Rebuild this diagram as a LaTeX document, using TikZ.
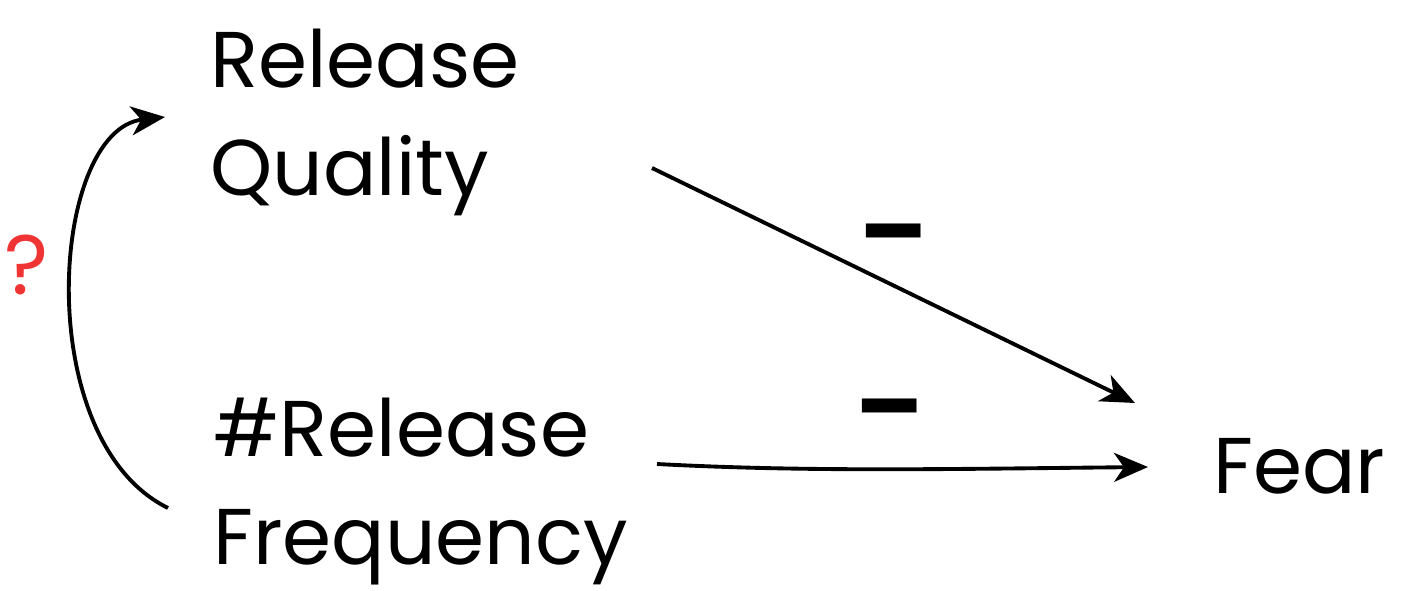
\documentclass[tikz,border=0pt]{standalone}
\usepackage{fontspec}
\setmainfont{Poppins}
\usetikzlibrary{positioning,arrows.meta}
\definecolor{qred}{RGB}{240,52,52}

\begin{document}
\begin{tikzpicture}[x=0.02cm, y=-0.02cm,
    concept/.style={inner sep=0pt, anchor=north west, align=left, font=\fontsize{45}{61}\selectfont},
    conn/.style={-{Stealth[length=0.68cm, width=0.58cm, inset=0.2cm]}, line width=2.2pt},
    sign/.style={font=\fontsize{56}{60}\selectfont\bfseries},
    qmark/.style={text=qred, font=\fontsize{48}{48}\selectfont}
]
    \useasboundingbox (0,0) rectangle (1416,591);

    % Concepts
    \node[concept] (quality) at (210,29) {Release\\Quality};
    \node[concept] (freq) at (213,398) {\#Release\\Frequency};
    \node[concept] (fear) at (1213,438) {Fear};

    % Influence arrows
    \draw[conn] ([shift={(442,139)}]quality.north west) -- node[sign, yshift=0.82cm] {–} ([shift={(-78,-35)}]fear.north west);
    \draw[conn] ([shift={(444,66)}]freq.north west) .. controls +(150,8) and +(-200,2) .. node[sign, xshift=0.12cm, yshift=1.0cm] {–} ([shift={(-65,29)}]fear.north west);

    % Unknown feedback
    \draw[conn] ([shift={(-45,110)}]freq.north west) .. controls +(-138,-68) and +(-115,13) .. node[qmark, xshift=-0.9cm, yshift=0.54cm] {?} ([shift={(-45,88)}]quality.north west);

\end{tikzpicture}
\end{document}
